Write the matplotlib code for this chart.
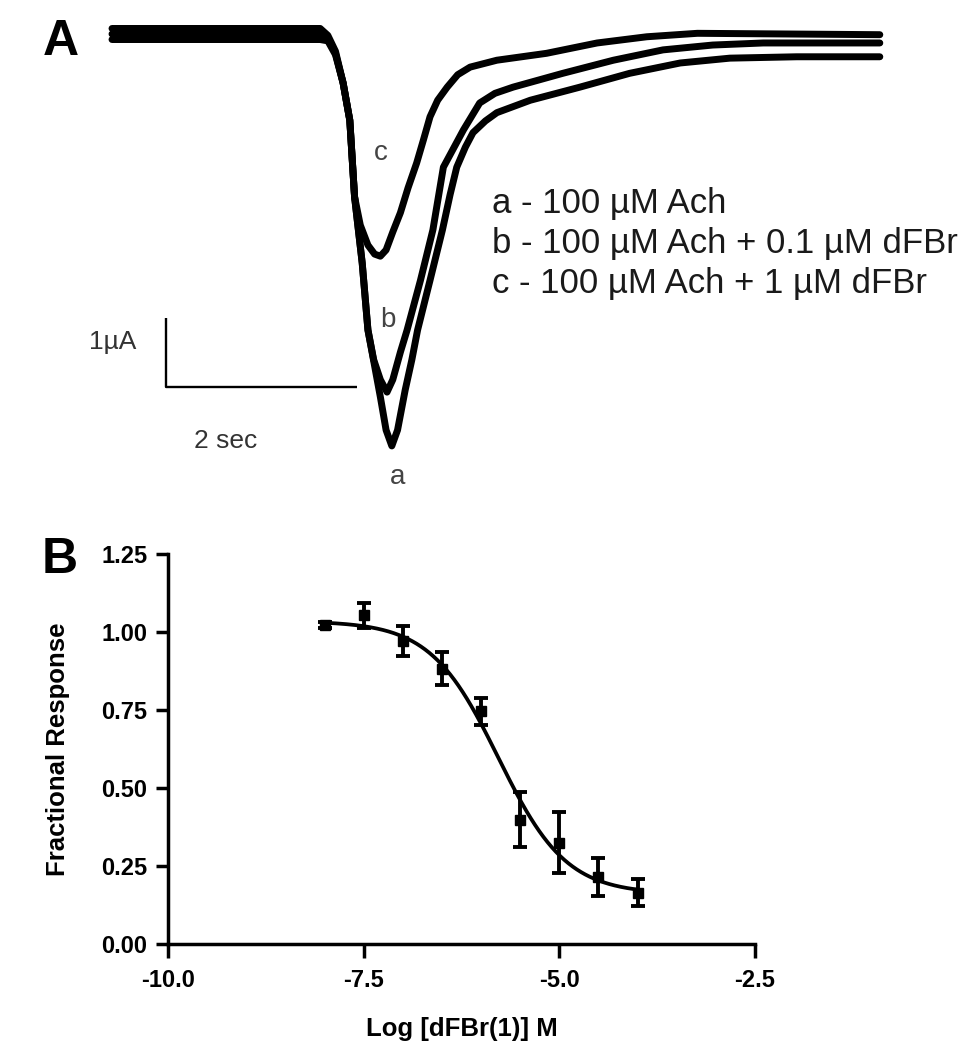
import matplotlib
matplotlib.use("Agg")
import matplotlib.pyplot as plt
import numpy as np

plt.rcParams['font.family'] = ['Liberation Sans', 'DejaVu Sans']

# ---------------- Panel A data: current traces (time in s, current in uA) ----------------
trace_a_t = [0.00, 2.18, 2.26, 2.34, 2.42, 2.49, 2.54, 2.62, 2.68, 2.81, 2.87, 2.93, 2.99, 3.07,
             3.14, 3.20, 3.33, 3.46, 3.54, 3.61, 3.70, 3.78, 3.91, 4.03, 4.38, 4.90, 5.42, 5.95,
             6.47, 7.17, 8.04]
trace_a_i = [-0.08, -0.08, -0.10, -0.30, -0.71, -1.25, -2.36, -3.32, -4.29, -5.26, -5.74, -5.97,
             -5.74, -5.16, -4.72, -4.29, -3.57, -2.84, -2.33, -1.93, -1.64, -1.43, -1.26, -1.14,
             -0.96, -0.77, -0.57, -0.42, -0.35, -0.33, -0.33]

trace_b_t = [0.00, 2.18, 2.26, 2.34, 2.42, 2.49, 2.54, 2.62, 2.68, 2.74, 2.81, 2.88, 2.94, 3.02,
             3.09, 3.23, 3.36, 3.47, 3.68, 3.85, 4.01, 4.20, 4.72, 5.25, 5.77, 6.29, 6.82, 8.04]
trace_b_i = [0.00, 0.00, -0.06, -0.28, -0.71, -1.25, -2.36, -3.32, -4.29, -4.72, -5.01, -5.19,
             -5.01, -4.61, -4.29, -3.57, -2.84, -1.93, -1.39, -1.00, -0.86, -0.77, -0.57, -0.38,
             -0.23, -0.16, -0.13, -0.13]

trace_c_t = [0.00, 2.18, 2.26, 2.34, 2.42, 2.49, 2.54, 2.60, 2.68, 2.75, 2.81, 2.87, 2.94, 3.02,
             3.10, 3.19, 3.26, 3.33, 3.41, 3.51, 3.62, 3.75, 4.03, 4.55, 5.08, 5.60, 6.13, 8.04]
trace_c_i = [0.08, 0.08, -0.02, -0.25, -0.71, -1.25, -2.36, -2.77, -3.06, -3.19, -3.22, -3.13,
             -2.87, -2.59, -2.23, -1.87, -1.54, -1.20, -0.96, -0.77, -0.59, -0.48, -0.38, -0.28,
             -0.13, -0.04, 0.01, -0.01]

legend_lines = ["a - 100 \u00b5M Ach",
                "b - 100 \u00b5M Ach + 0.1 \u00b5M dFBr",
                "c - 100 \u00b5M Ach + 1 \u00b5M dFBr"]

# ---------------- Panel B data: concentration-response ----------------
log_conc = [-8.0, -7.5, -7.0, -6.5, -6.0, -5.5, -5.0, -4.5, -4.0]
frac_resp = [1.022, 1.053, 0.972, 0.883, 0.746, 0.398, 0.325, 0.215, 0.165]
frac_err = [0.010, 0.040, 0.048, 0.053, 0.043, 0.088, 0.097, 0.060, 0.042]
# fitted 4-parameter logistic (as drawn by the fitting software)
fit_top, fit_bottom, fit_logic50, fit_hill = 1.035, 0.16, -5.78, 1.0
x_ticks = [-10.0, -7.5, -5.0, -2.5]
y_ticks = [0.00, 0.25, 0.50, 0.75, 1.00, 1.25]

W, H = 975, 1050
fig = plt.figure(figsize=(W / 100, H / 100), dpi=100)

# ---------------- Panel A ----------------
axA = fig.add_axes([0, 1 - 520 / H, 1, 520 / H])
axA.set_xlim(-112 / 95.5, (975 - 112) / 95.5)
axA.set_ylim(-(520 - 34) / 69, 34 / 69)
axA.axis('off')
for tt, ii in [(trace_a_t, trace_a_i), (trace_b_t, trace_b_i), (trace_c_t, trace_c_i)]:
    axA.plot(tt, ii, color='black', lw=5.0, solid_capstyle='round', solid_joinstyle='round')

# scale bar: 2 sec x 1 uA
sb_t0, sb_i0 = 0.57, -5.12
axA.plot([sb_t0, sb_t0, sb_t0 + 2.0], [sb_i0 + 1.0, sb_i0, sb_i0], color='black', lw=1.7,
         solid_capstyle='butt')
axA.text(0.01, -4.46, "1\u00b5A", fontsize=19, color='#333333', ha='center', va='center')
axA.text(1.19, -5.90, "2 sec", fontsize=19, color='#333333', ha='center', va='center')

axA.text(2.81, -1.72, "c", fontsize=20, color='#444444', ha='center', va='center')
axA.text(2.89, -4.14, "b", fontsize=20, color='#444444', ha='center', va='center')
axA.text(2.99, -6.42, "a", fontsize=20, color='#444444', ha='center', va='center')

for k, line in enumerate(legend_lines):
    axA.text(3.98, -2.45 - 0.58 * k, line, fontsize=25, color='#1a1a1a', ha='left', va='center')

fig.text(61 / W, 1 - 42 / H, "A", fontsize=36, fontweight='bold', ha='center', va='center')
fig.text(60 / W, 1 - 560 / H, "B", fontsize=36, fontweight='bold', ha='center', va='center')

# ---------------- Panel B ----------------
axB = fig.add_axes([168 / W, 1 - 944 / H, (755 - 168) / W, (944 - 554) / H])
axB.set_xlim(-10, -2.5)
axB.set_ylim(0, 1.25)
for s in ['top', 'right']:
    axB.spines[s].set_visible(False)
for s in ['left', 'bottom']:
    axB.spines[s].set_linewidth(2.5)

xs = np.linspace(min(log_conc), max(log_conc), 300)
fit = fit_bottom + (fit_top - fit_bottom) / (1 + 10 ** ((xs - fit_logic50) * fit_hill))
axB.plot(xs, fit, color='black', lw=2.7)
axB.errorbar(log_conc, frac_resp, yerr=frac_err, fmt='s', color='black', ms=7,
             elinewidth=2.8, capsize=5, capthick=2.8)

axB.set_xticks(x_ticks)
axB.set_xticklabels([f"{v:.1f}" for v in x_ticks])
axB.set_yticks(y_ticks)
axB.set_yticklabels([f"{v:.2f}" for v in y_ticks])
axB.tick_params(axis='x', direction='out', length=10, width=2.5, labelsize=17, pad=8)
axB.tick_params(axis='y', direction='out', length=9, width=2.5, labelsize=17, pad=6)
for lab in axB.get_xticklabels() + axB.get_yticklabels():
    lab.set_fontweight('bold')
axB.set_xlabel("Log [dFBr(1)] M", fontsize=18.5, fontweight='bold', labelpad=18)
axB.set_ylabel("Fractional Response", fontsize=18.5, fontweight='bold', labelpad=22)

fig.savefig("out.png", dpi=100)
